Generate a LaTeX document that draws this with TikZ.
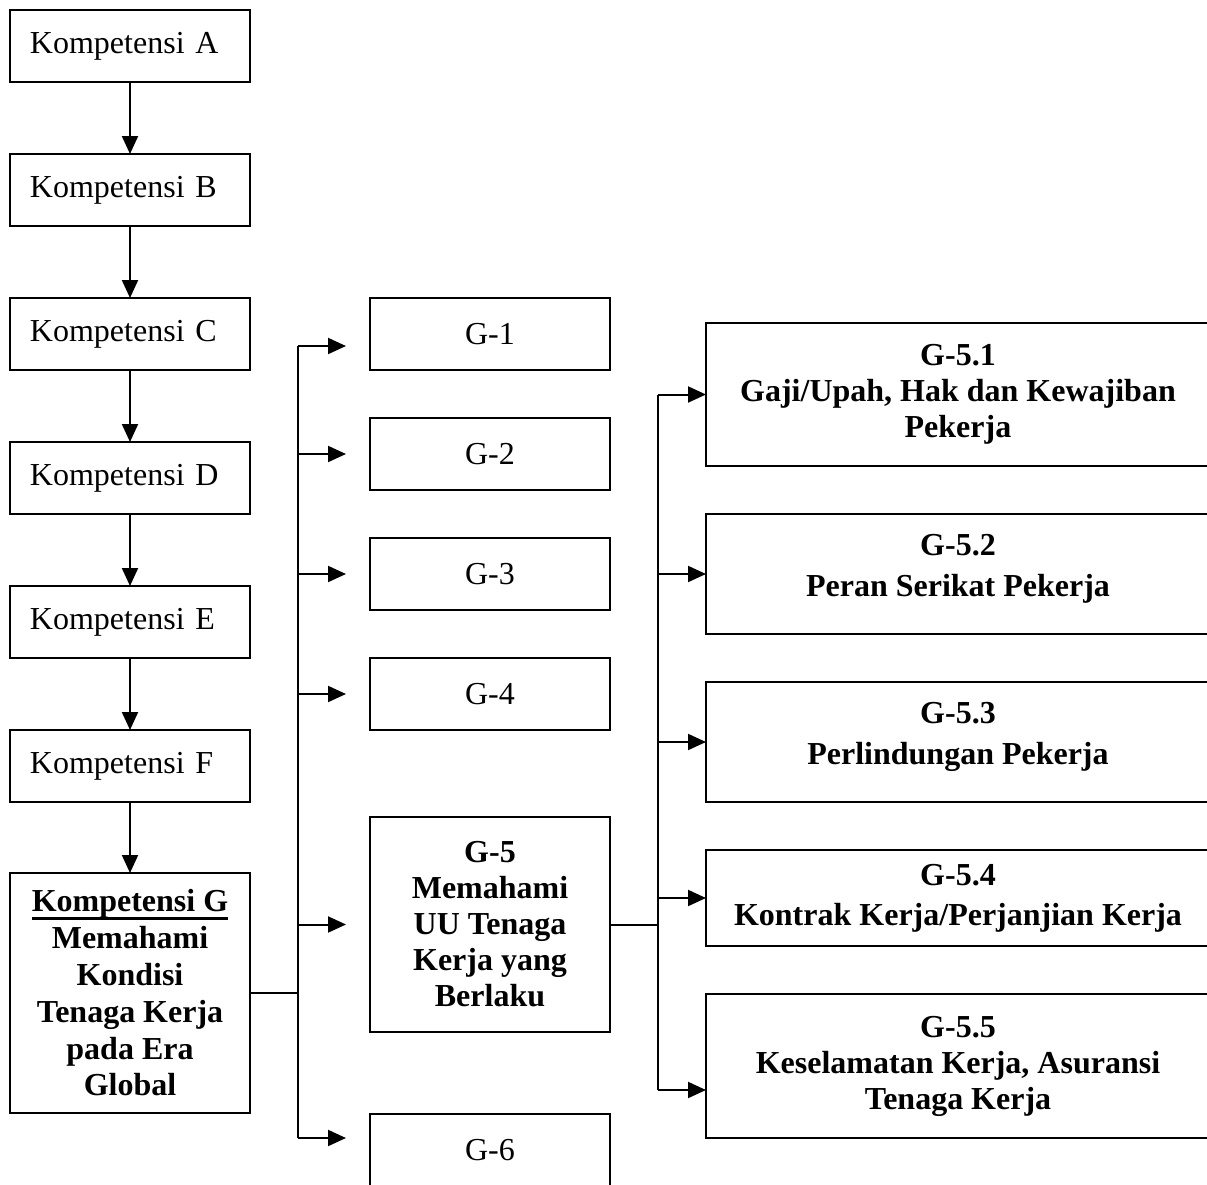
\documentclass[tikz,border=0pt]{standalone}
\usepackage{fontspec}
\setmainfont{Liberation Serif}
\usetikzlibrary{calc}
\usetikzlibrary{positioning}
\usetikzlibrary{arrows.meta}
\newcommand{\undertitle}[1]{\setbox0\hbox{#1}\rlap{\rule[-4pt]{\wd0}{1.6pt}}\box0}

\begin{document}
\begin{tikzpicture}[x=0.5pt, y=-0.5pt, line width=1pt,
  every node/.style={draw, rectangle, outer sep=0pt, font=\fontsize{16}{18}\selectfont},
  bold/.style={font=\fontsize{16}{18}\selectfont\bfseries},
  kbox/.style={minimum width=120pt, minimum height=36pt, text width=100pt, inner xsep=10pt, align=left},
  gbox/.style={minimum width=120pt, minimum height=36pt, align=center},
  rbox/.style={bold, minimum width=252pt, align=center},
  arr/.style={-{Triangle[length=9pt,width=8pt]}}]
  \useasboundingbox (0,0) rectangle (1207,1185);
  \clip (0,0) rectangle (1207,1185);

  \node[kbox] (ka) at (130,46) {Kompetensi A};
  \node[kbox, below=36pt of ka] (kb) {Kompetensi B};
  \node[kbox, below=36pt of kb] (kc) {Kompetensi C};
  \node[kbox, below=36pt of kc] (kd) {Kompetensi D};
  \node[kbox, below=36pt of kd] (ke) {Kompetensi E};
  \node[kbox, below=36pt of ke] (kf) {Kompetensi F};
  \node[font=\fontsize{16}{18.4}\selectfont\bfseries, minimum width=120pt, minimum height=120pt,
        align=center, below=35.5pt of kf] (kg)
    {\undertitle{Kompetensi G}\\Memahami\\Kondisi\\Tenaga Kerja\\pada Era\\Global};
  \draw[arr] (ka) -- (kb);
  \draw[arr] (kb) -- (kc);
  \draw[arr] (kc) -- (kd);
  \draw[arr] (kd) -- (ke);
  \draw[arr] (ke) -- (kf);
  \draw[arr] (kf) -- (kg);

  \node[gbox] (g1) at (490,334) {G-1};
  \node[gbox, below=24pt of g1] (g2) {G-2};
  \node[gbox, below=24pt of g2] (g3) {G-3};
  \node[gbox, below=24pt of g3] (g4) {G-4};
  \node[gbox, bold, minimum height=107.5pt, below=43.5pt of g4] (g5)
    {G-5\\Memahami\\UU Tenaga\\Kerja yang\\Berlaku};
  \node[gbox, below=41pt of g5] (g6) {G-6};

  \coordinate (lb) at ($(kg.east)+(48,0)$);
  \coordinate (l1) at ($(lb |- g1.west)+(0,12)$);
  \coordinate (l6) at ($(lb |- g6.west)+(0,-12)$);
  \draw (kg.east) -- (lb);
  \draw (l1) -- (l6);
  \draw[arr] (l1) -- ($(g1.west)+(-24,12)$);
  \draw[arr] (lb |- g2.west) -- ($(g2.west)+(-24,0)$);
  \draw[arr] (lb |- g3.west) -- ($(g3.west)+(-24,0)$);
  \draw[arr] (lb |- g4.west) -- ($(g4.west)+(-24,0)$);
  \draw[arr] (lb |- g5.west) -- ($(g5.west)+(-24,0)$);
  \draw[arr] (l6) -- ($(g6.west)+(-24,-12)$);

  \node[rbox, minimum height=71.5pt] (g51) at (958,394.5)
    {G-5.1\\Gaji/Upah, Hak dan Kewajiban\\Pekerja};
  \node[rbox, minimum height=60pt, text depth=9pt, below=24pt of g51] (g52)
    {G-5.2\\[2.5pt]Peran Serikat Pekerja};
  \node[rbox, minimum height=60pt, text depth=9pt, below=24pt of g52] (g53)
    {G-5.3\\[2.5pt]Perlindungan Pekerja};
  \node[rbox, minimum height=48pt, below=24pt of g53] (g54)
    {G-5.4\\[2pt]Kontrak Kerja/Perjanjian Kerja};
  \node[rbox, minimum height=72pt, below=24pt of g54] (g55)
    {G-5.5\\Keselamatan Kerja, Asuransi\\Tenaga Kerja};

  \coordinate (rb) at ($(g5.east)+(48,0)$);
  \coordinate (r5) at ($(rb |- g55.west)+(0,24)$);
  \draw (g5.east) -- (rb);
  \draw (rb |- g51.west) -- (r5);
  \draw[arr] (rb |- g51.west) -- (g51.west);
  \draw[arr] (rb |- g52.west) -- (g52.west);
  \draw[arr] (rb |- g53.west) -- (g53.west);
  \draw[arr] (rb |- g54.west) -- (g54.west);
  \draw[arr] (r5) -- ($(g55.west)+(0,24)$);
\end{tikzpicture}
\end{document}
